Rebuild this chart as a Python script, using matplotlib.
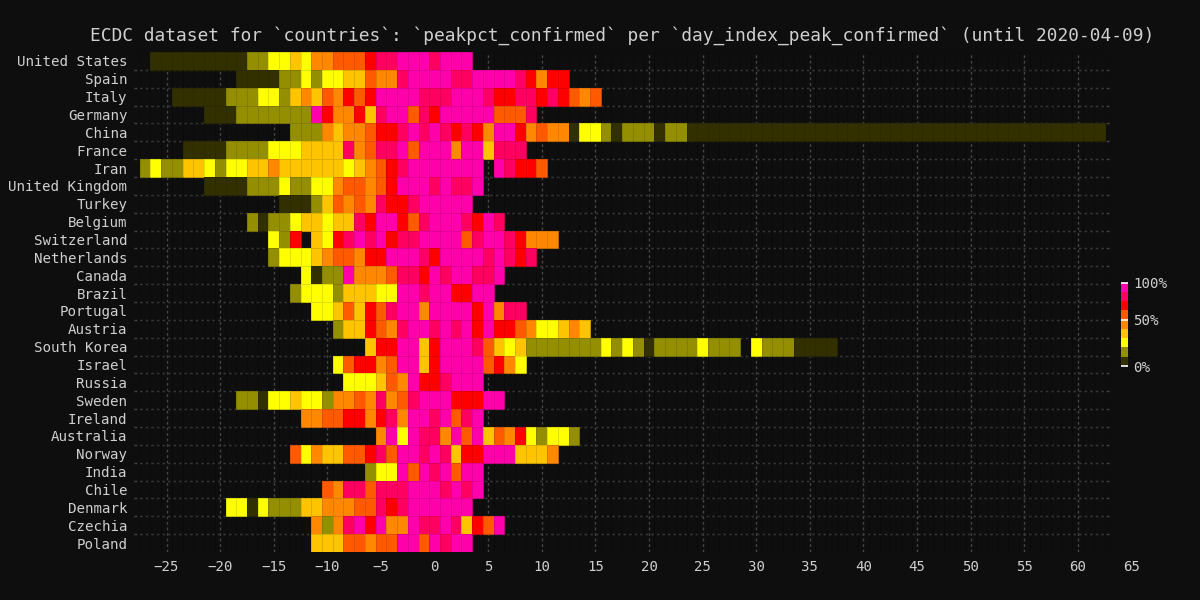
"""
plot.py - ECDC peak-percentage heatmap per country vs. day index of peak.
Cells are coloured by which band of the peak value a day's confirmed count falls in.
"""

import numpy as np
import matplotlib
matplotlib.use("Agg")
import matplotlib.pyplot as plt
from matplotlib.colors import ListedColormap, BoundaryNorm

TITLE = ("ECDC dataset for `countries`: `peakpct_confirmed` per "
         "`day_index_peak_confirmed` (until 2020-04-09)")

countries = [
    "United States", "Spain", "Italy", "Germany", "China", "France", "Iran",
    "United Kingdom", "Turkey", "Belgium", "Switzerland", "Netherlands",
    "Canada", "Brazil", "Portugal", "Austria", "South Korea", "Israel",
    "Russia", "Sweden", "Ireland", "Australia", "Norway", "India", "Chile",
    "Denmark", "Czechia", "Poland",
]

# day index of the first reported cell for each country
first_day = [-26, -18, -24, -21, -13, -23, -27, -21, -14, -17, -15, -15,
             -12, -13, -11, -9, -6, -9, -8, -18, -12, -5, -13, -6, -10,
             -19, -11, -11]

# one character per day: peak-percentage band 0..8, "." = no value
# (spaces are only there to make runs readable)
day_bands = [
    "000000000 11 22 3 2 44 555 6 77 888 7 888",
    "0000 11 2 1 22 33 5 44 7 8888 77 8888 7 6 4 66",
    "00000 111 22 1 3 4 3 5 4 6 5 6 8888 777 888 7 66 77 6 7 6 5 4 5",
    "000 1111111 8 6 44 6 3 7 88 5 7 6 88888 555 7",
    "111 4 3 44 5 66 7 8 7 8 7 6 7 6 4 88 6 4 5 44 0 22 1 0 111 0 11 "
    "000000000000000000000000000000000000000",
    "0000 1111 222 3333 7 4 5 77 8 5 888 4 88 3 777",
    "1 2 11 33 2 1 22 33 4 333333 2 3 4 5 6 7 8888888 . 8 7 66 5",
    "0000 111 2 11 22 4 55 4 5 6 888 7 8 77 8",
    "000 1 3 5 4 5 4 7 66 7 88888",
    "1 0 11 2 3 3 2 33 7 6 8 8 6 5 7 888 7 6 8 7",
    "2 1 6 . 3 2 6 7 8 7 8 6 77 8888 5 7 88 7 6 444",
    "1 222 3 4 55 4 66 888 7 6 8888 7 8 7 6 7",
    "2 0 11 8 44 4 5 77 6 8 7 88 77 8",
    "1 222 1 333 22 88 7 88 66 88",
    "22 3 5 3 6 5 7 88 4 8888 6 8 4 77",
    "1 33 6 5 4 7 88 7 8 7 8 6 8 66 5 4 22 3 4 3",
    "3 66 88 3 6 888 7 5 3 2 3 1111111 2 1 2 1 0 1111 2 111 . 2 111 0000",
    "2 5 66 4 5 88 3 6 8888 5 6 4 2",
    "222 3 5 4 8 66 7 888",
    "11 0 22 3 22 1 44 5 4 7 4 5 7 888 666 88",
    "44 55 66 4 6 7 4 88 7 8 5 7 8",
    "4 8 2 8 77 4 8 5 8 3 5 4 6 2 1 22 1",
    "5 2 4 33 55 6 7 5 88 7 8 7 3 66 888 333 4",
    "1 22 8 5 8 7 8 5 88",
    "5 4 77 5 777 888 7 8 7 8",
    "22 0 2 111 33 444 55 7 6 7 888888",
    "4 1 4 7 8 6 8 44 8 77 8 7 3 6 5 8",
    "333 55 4 55 88 5 8 7 88",
]

# representative value (%) of each band and the band limits used by the colour scale
band_pct = [6, 17, 29, 39, 46, 59, 72, 81, 94]
band_edges = [0, 12, 23, 35, 43, 50, 68, 76, 87, 100]
band_colors = ["#333000", "#948f00", "#ffff00", "#ffc400", "#ff8800",
               "#ff5a00", "#ff0000", "#ff0060", "#ff00aa"]

BG = "#0e0e0e"
FG = "#cfcfcf"
GRID = "#454545"
FONT = ["DejaVu Sans Mono"]
LABEL_SIZE = 10.2


def build_matrix():
    days = np.arange(-27, 63)
    values = np.full((len(countries), len(days)), np.nan)
    for row, (start, codes) in enumerate(zip(first_day, day_bands)):
        for k, ch in enumerate(codes.replace(" ", "")):
            if ch != ".":
                values[row, start - days[0] + k] = band_pct[int(ch)]
    return days, np.ma.masked_invalid(values)


def main():
    plt.rcParams["font.family"] = FONT
    days, values = build_matrix()

    cmap = ListedColormap(band_colors)
    cmap.set_bad((0, 0, 0, 0))
    norm = BoundaryNorm(band_edges, cmap.N)

    fig = plt.figure(figsize=(12, 6), dpi=100, facecolor=BG)
    ax = fig.add_axes([0.112, 0.08, 0.813, 0.8333], facecolor=BG)

    x_edges = np.append(days - 0.5, days[-1] + 0.5)
    y_edges = np.arange(len(countries) + 1) - 0.5
    mesh = ax.pcolormesh(x_edges, y_edges, values, cmap=cmap, norm=norm,
                         edgecolors=(0, 0, 0, 0.12), linewidth=0.4, zorder=2)

    ax.set_xlim(-28, 63)
    ax.set_ylim(len(countries) - 0.5, -0.5)

    ax.set_xticks(np.arange(-25, 61, 5))
    ax.set_yticks(np.arange(len(countries)))
    ax.set_yticklabels(countries)
    ax.set_yticks(np.arange(0.5, len(countries) - 1, 1), minor=True)
    ax.tick_params(which="both", length=0, colors=FG, labelsize=LABEL_SIZE)
    ax.tick_params(axis="x", pad=6)
    ax.tick_params(axis="y", pad=5)
    # the last tick label sits past the right edge of the plot
    ax.annotate("65", xy=(65, 0), xycoords=ax.get_xaxis_transform(),
                xytext=(0, -6), textcoords="offset points", ha="center",
                va="top", color=FG, fontsize=LABEL_SIZE, annotation_clip=False)

    ax.set_axisbelow(True)
    ax.grid(True, axis="x", which="major", color=GRID, linestyle=(0, (2, 2)), lw=1)
    ax.grid(True, axis="y", which="minor", color=GRID, linestyle=(0, (2, 2)), lw=1)
    for sp in ax.spines.values():
        sp.set_visible(False)

    ax.set_title(TITLE, color=FG, fontsize=12.9, pad=8)

    cax = fig.add_axes([0.934, 0.39, 0.006, 0.139])
    cb = fig.colorbar(mesh, cax=cax, ticks=[0, 50, 100])
    cb.ax.set_yticklabels(["0%", "50%", "100%"])
    cb.ax.tick_params(length=5, width=1.2, color="white", direction="in",
                      labelcolor=FG, labelsize=LABEL_SIZE, pad=4)
    cb.outline.set_visible(False)

    fig.savefig("out.png", facecolor=BG)


if __name__ == "__main__":
    main()
